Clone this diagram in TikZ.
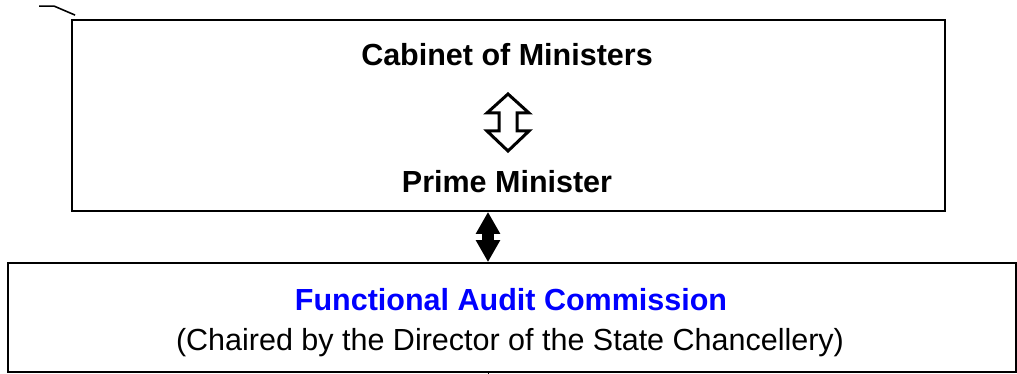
\documentclass[tikz,border=0pt]{standalone}
\usepackage{fontspec}
\setmainfont{Liberation Sans}
\usetikzlibrary{arrows.meta}
\begin{document}
\begin{tikzpicture}[
	x=1pt, y=-1pt,
	font=\fontsize{30.5}{36}\selectfont,
	box/.style={draw, line width=1.8pt, inner sep=0pt},
	hd/.style={font=\fontsize{30.5}{36}\selectfont\bfseries, anchor=base},
	sub/.style={anchor=base},
	link/.style={<->, >={Triangle[width=23pt,length=22pt]}, line width=12pt},
	]
\useasboundingbox (0,0) rectangle (1017,374);
\node [box, minimum width=873pt, minimum height=191pt] (gov) at (508.5,115.5) {};
\node [box, minimum width=1008pt, minimum height=109pt] (fac) at (512,317.5) {};
\node [hd] (cab) at (507,66) {Cabinet of Ministers};
\node [hd] (pm) at (507,193) {Prime Minister};
\node [hd, text=blue] (fa) at (511,310) {Functional Audit Commission};
\node [sub] (chair) at (510,350) {(Chaired by the Director of the State Chancellery)};
\coordinate (lx) at (488,240);
\draw [line width=3pt, fill=white, line join=miter] (508,94) -- (529,113) -- (517,113) -- (517,131)
	-- (529,131) -- (508,151) -- (487,131) -- (499,131) -- (499,113) -- (487,113) -- cycle;
\draw [link] (gov.south -| lx) -- (fac.north -| lx);
\draw [line width=1pt] (fac.south -| lx) -- ++(0,3);
\draw [line width=1.6pt] (gov.north west) ++(4,-4) -- ++(-21,-9) -- ++(-15,0);
\end{tikzpicture}
\end{document}
